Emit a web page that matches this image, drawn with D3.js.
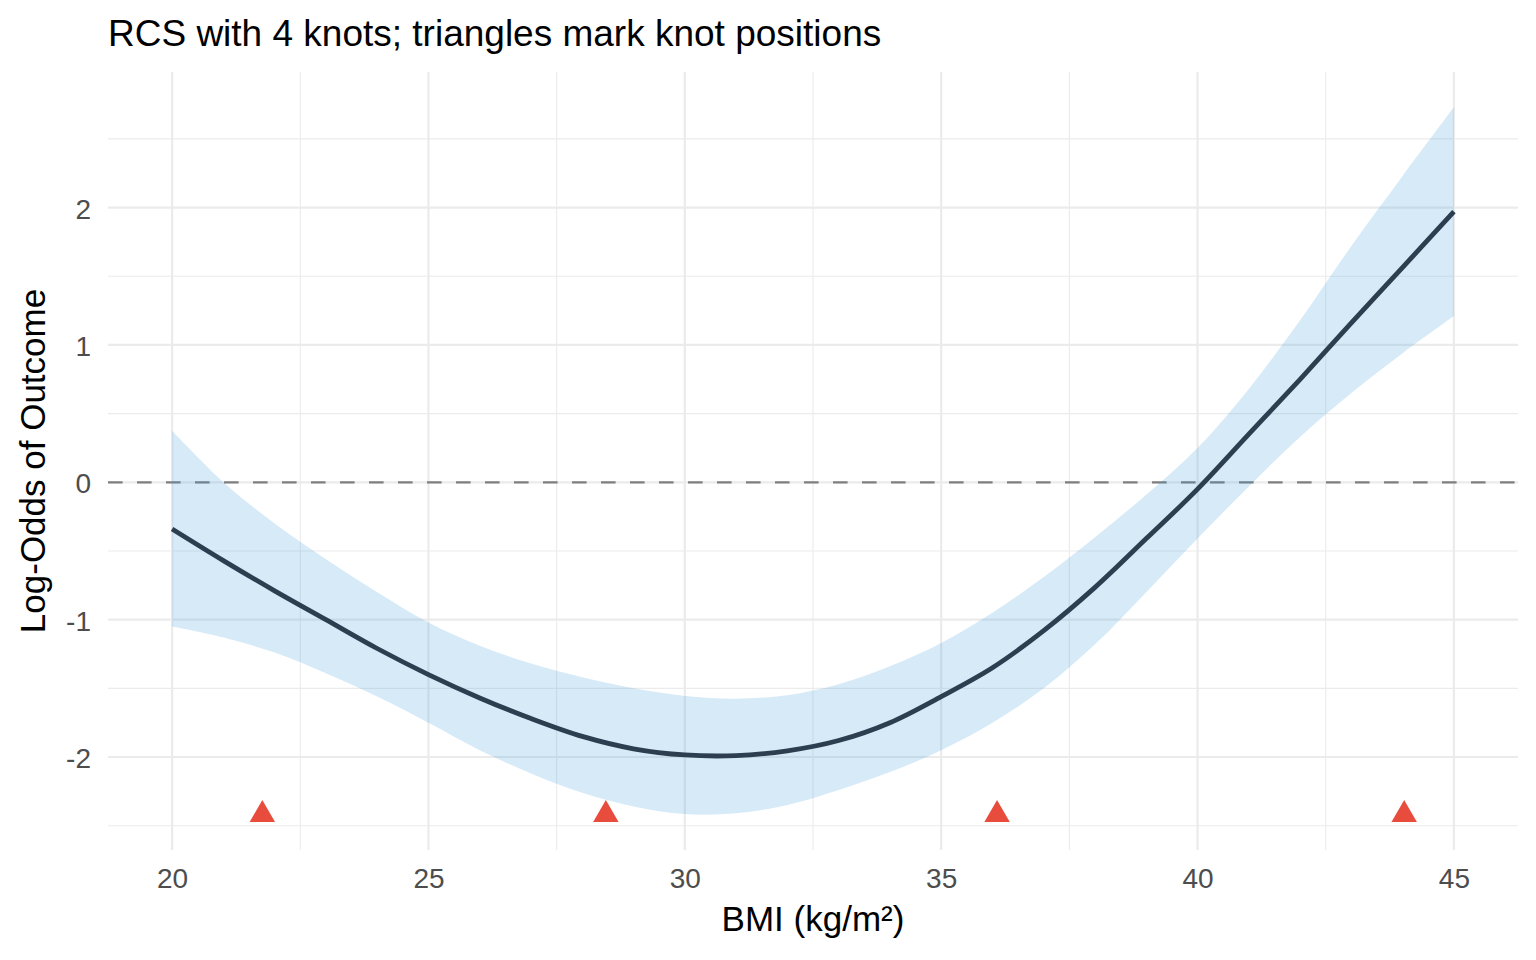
<!DOCTYPE html>
<html>
<head>
<meta charset="utf-8">
<script src="https://cdn.jsdelivr.net/npm/d3@7"></script>
<style>
  body { margin: 0; background: #fff; }
  text { font-family: "Liberation Sans", Arial, Helvetica, sans-serif; }
</style>
</head>
<body>
<div id="container"></div>
<script>
let bmi   = [20, 21, 22, 23, 24, 25, 26, 27, 28, 29, 30, 31, 32, 33, 34, 35, 36, 37, 38, 39, 40, 41, 42, 43, 44, 45];
let fit   = [-0.34, -0.57, -0.79, -1.00, -1.21, -1.40, -1.57, -1.72, -1.85, -1.94, -1.985, -1.99, -1.955, -1.88, -1.75, -1.56, -1.35, -1.08, -0.765, -0.41, -0.05, 0.35, 0.75, 1.16, 1.565, 1.97];
let upper = [0.375, 0.00, -0.30, -0.56, -0.80, -1.02, -1.19, -1.32, -1.42, -1.50, -1.555, -1.575, -1.55, -1.47, -1.34, -1.17, -0.95, -0.69, -0.40, -0.09, 0.25, 0.68, 1.18, 1.72, 2.23, 2.73];
let lower = [-1.05, -1.13, -1.24, -1.39, -1.56, -1.75, -1.95, -2.12, -2.26, -2.36, -2.415, -2.41, -2.35, -2.24, -2.11, -1.95, -1.75, -1.50, -1.18, -0.80, -0.41, -0.03, 0.33, 0.65, 0.94, 1.21];
let knots = [21.76, 28.46, 36.09, 44.03];
let knotY = -2.42;
let xTicks = [20, 25, 30, 35, 40, 45];
let xMinor = [22.5, 27.5, 32.5, 37.5, 42.5];
let yTicks = [-2, -1, 0, 1, 2];
let yMinor = [-2.5, -1.5, -0.5, 0.5, 1.5, 2.5];

let w = 1536;
let h = 960;
let pLeft = 108, pRight = 1518, pTop = 72, pBottom = 850;

let viz = d3.select("#container").append("svg")
    .attr("width", w)
    .attr("height", h);

let x = d3.scaleLinear().domain([18.75, 46.25]).range([pLeft, pRight]);
let y = d3.scaleLinear().domain([-2.677, 2.987]).range([pBottom, pTop]);

let rows = bmi.map((b, i) => ({ b: b, fit: fit[i], lo: lower[i], hi: upper[i] }));

// grid
let grid = viz.append("g");
grid.selectAll(".xminor").data(xMinor).enter().append("line")
    .attr("x1", d => x(d)).attr("x2", d => x(d))
    .attr("y1", pTop).attr("y2", pBottom)
    .attr("stroke", "#ebebeb").attr("stroke-width", 1.1);
grid.selectAll(".yminor").data(yMinor).enter().append("line")
    .attr("x1", pLeft).attr("x2", pRight)
    .attr("y1", d => y(d)).attr("y2", d => y(d))
    .attr("stroke", "#ebebeb").attr("stroke-width", 1.1);
grid.selectAll(".xmajor").data(xTicks).enter().append("line")
    .attr("x1", d => x(d)).attr("x2", d => x(d))
    .attr("y1", pTop).attr("y2", pBottom)
    .attr("stroke", "#ebebeb").attr("stroke-width", 2.2);
grid.selectAll(".ymajor").data(yTicks).enter().append("line")
    .attr("x1", pLeft).attr("x2", pRight)
    .attr("y1", d => y(d)).attr("y2", d => y(d))
    .attr("stroke", "#ebebeb").attr("stroke-width", 2.2);

// reference line at zero
viz.append("line")
    .attr("x1", pLeft).attr("x2", pRight)
    .attr("y1", y(0)).attr("y2", y(0))
    .attr("stroke", "#7f7f7f")
    .attr("stroke-width", 2.2)
    .attr("stroke-dasharray", "14.6,14.4");

// confidence band
let area = d3.area()
    .x(d => x(d.b))
    .y0(d => y(d.lo))
    .y1(d => y(d.hi))
    .curve(d3.curveCatmullRom);
viz.append("path")
    .datum(rows)
    .attr("d", area)
    .attr("fill", "#3498db")
    .attr("fill-opacity", 0.2);

// fitted spline
let line = d3.line()
    .x(d => x(d.b))
    .y(d => y(d.fit))
    .curve(d3.curveCatmullRom);
viz.append("path")
    .datum(rows)
    .attr("d", line)
    .attr("fill", "none")
    .attr("stroke", "#2c3e50")
    .attr("stroke-width", 4.8);

// knots
viz.selectAll(".knot").data(knots).enter().append("path")
    .attr("d", d3.symbol().type(d3.symbolTriangle).size(280))
    .attr("transform", d => "translate(" + x(d) + "," + y(knotY) + ")")
    .attr("fill", "#e74c3c");

// axes
let xAxis = viz.append("g")
    .attr("transform", "translate(0," + pBottom + ")")
    .call(d3.axisBottom(x).tickValues(xTicks).tickSize(0).tickPadding(18));
let yAxis = viz.append("g")
    .attr("transform", "translate(" + pLeft + ",0)")
    .call(d3.axisLeft(y).tickValues(yTicks).tickSize(0).tickPadding(17)
        .tickFormat(d => String(d)));
[xAxis, yAxis].forEach(a => {
  a.select(".domain").remove();
  a.selectAll("text")
    .attr("fill", "#4d4d4d")
    .attr("font-size", 28)
    .attr("font-family", "Liberation Sans, Arial, sans-serif");
});
yAxis.selectAll("text").attr("dy", "0.38em");

viz.append("text")
    .text("BMI (kg/m²)")
    .attr("x", (pLeft + pRight) / 2)
    .attr("y", 931)
    .attr("text-anchor", "middle")
    .attr("font-size", 35)
    .attr("fill", "#000");

viz.append("text")
    .text("Log-Odds of Outcome")
    .attr("transform", "translate(45," + ((pTop + pBottom) / 2) + ") rotate(-90)")
    .attr("text-anchor", "middle")
    .attr("font-size", 35)
    .attr("fill", "#000");

viz.append("text")
    .text("RCS with 4 knots; triangles mark knot positions")
    .attr("x", pLeft)
    .attr("y", 46)
    .attr("font-size", 37)
    .attr("fill", "#000");
</script>
</body>
</html>
